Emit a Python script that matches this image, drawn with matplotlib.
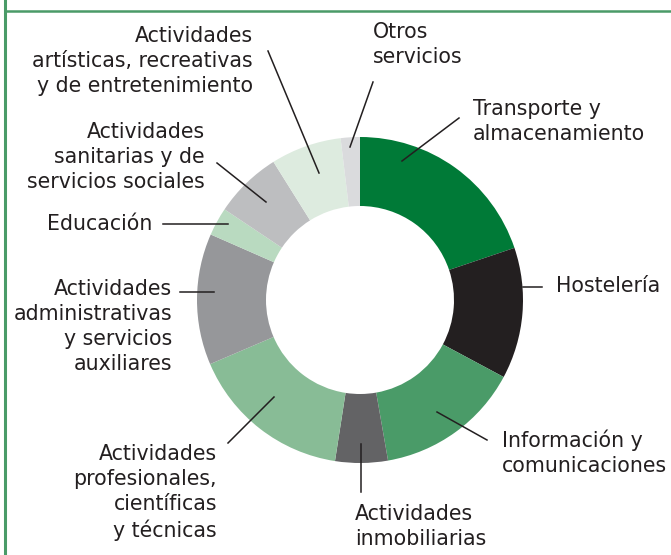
import matplotlib.pyplot as plt
from matplotlib.lines import Line2D

# Data -----------------------------------------------------
sectores = ['Transporte y\nalmacenamiento', 'Hostelería', 'Información y\ncomunicaciones',
            'Actividades\ninmobiliarias', 'Actividades\nprofesionales,\ncientíficas\ny técnicas',
            'Actividades\nadministrativas\ny servicios\nauxiliares', 'Educación',
            'Actividades\nsanitarias y de\nservicios sociales',
            'Actividades\nartísticas, recreativas\ny de entretenimiento', 'Otros\nservicios']
pesos = [19.8, 13.0, 14.4, 5.2, 16.1, 13.0, 2.8, 6.7, 7.0, 1.9]
colores = ['#007a37', '#231f20', '#4a9b68', '#636365', '#88bc96',
           '#96979a', '#b9dac0', '#bdbec0', '#ddebdf', '#dadbdd']

# label placement in pixels (x, last baseline y, alignment) and leader lines
etiquetas = [(473, 140, 'left'), (556, 292, 'left'), (502, 472, 'left'),
             (355, 545, 'left'), (217, 537, 'right'), (172, 370, 'right'),
             (152, 230, 'right'), (205, 188, 'right'), (253, 92, 'right'),
             (373, 63, 'left')]
guias = [((402, 161), (459, 118)), ((523, 287), (542, 287)), ((437, 412), (487, 440)),
         ((361, 444), (361, 492)), ((274, 397), (228, 443)), ((214, 292), (180, 292)),
         ((228, 224), (163, 224)), ((266, 202), (217, 163)), ((319, 173), (268, 51)),
         ((350, 147), (373, 82))]

W, H = 671, 555
fig = plt.figure(figsize=(W / 100, H / 100), dpi=100)
ax = fig.add_axes([0, 0, 1, 1])
ax.set_xlim(0, W)
ax.set_ylim(0, H)
ax.set_aspect('equal')
ax.axis('off')

ax.pie(pesos, colors=colores, startangle=90, counterclock=False,
       center=(360, H - 300), radius=163,
       wedgeprops=dict(width=163 - 94, linewidth=0))
ax.set_xlim(0, W)
ax.set_ylim(0, H)

for (x, y, ha), txt in zip(etiquetas, sectores):
    ax.text(x, H - y, txt, ha=ha, va='baseline', multialignment=ha,
            fontsize=14.8, color='#231f20', linespacing=1.32)

for (p0, p1) in guias:
    ax.plot([p0[0], p1[0]], [H - p0[1], H - p1[1]], color='#231f20', lw=1.1)

# green frame
fig.add_artist(Line2D([5 / W, 5 / W], [0, 1], color='#4a9b68', lw=2.2))
fig.add_artist(Line2D([5 / W, 1], [1 - 11 / H, 1 - 11 / H], color='#4a9b68', lw=1.8))

fig.savefig('out.png', dpi=100)
